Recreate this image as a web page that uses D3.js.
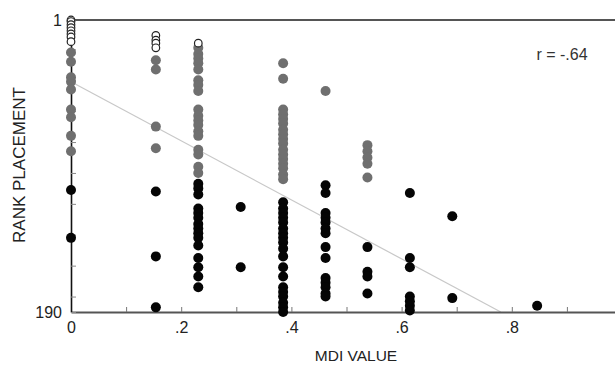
<!DOCTYPE html>
<html>
<head>
<meta charset="utf-8">
<script src="https://cdn.jsdelivr.net/npm/d3@7"></script>
<style>
  body { margin: 0; background: #fff; }
  svg { display: block; font-family: "Liberation Sans", Arial, sans-serif; }
</style>
</head>
<body>
<div id="root"></div>
<script>
// MDI value, rank placement
const openPoints = [
  [0, 1], [0, 2], [0, 4], [0, 6], [0, 8], [0, 10], [0, 12], [0, 15],
  [0.154, 11], [0.154, 14], [0.154, 16], [0.154, 19],
  [0.231, 16]
];
const grayPoints = [
  [0, 22], [0, 28], [0, 38], [0, 41], [0, 46], [0, 59], [0, 64], [0, 76], [0, 86],
  [0.154, 27], [0.154, 33], [0.154, 70], [0.154, 84],
  [0.231, 19], [0.231, 23], [0.231, 26], [0.231, 29], [0.231, 33], [0.231, 40],
  [0.231, 43], [0.231, 47], [0.231, 59], [0.231, 63], [0.231, 66], [0.231, 69],
  [0.231, 73], [0.231, 76], [0.231, 85], [0.231, 88], [0.231, 96], [0.231, 100],
  [0.385, 29], [0.385, 39], [0.385, 59], [0.385, 62], [0.385, 65], [0.385, 68],
  [0.385, 72], [0.385, 75], [0.385, 78], [0.385, 81], [0.385, 85], [0.385, 88],
  [0.385, 91], [0.385, 94], [0.385, 97], [0.385, 101], [0.385, 104],
  [0.462, 47],
  [0.538, 82], [0.538, 86], [0.538, 90], [0.538, 94], [0.538, 103]
];
const blackPoints = [
  [0, 111], [0, 142],
  [0.154, 112], [0.154, 154], [0.154, 187],
  [0.231, 107], [0.231, 110], [0.231, 114], [0.231, 123], [0.231, 126], [0.231, 129],
  [0.231, 133], [0.231, 136], [0.231, 139], [0.231, 142], [0.231, 147], [0.231, 155],
  [0.231, 161], [0.231, 167], [0.231, 174],
  [0.308, 122], [0.308, 161],
  [0.385, 119], [0.385, 123], [0.385, 126], [0.385, 129], [0.385, 132], [0.385, 136],
  [0.385, 139], [0.385, 142], [0.385, 145], [0.385, 149], [0.385, 154], [0.385, 161],
  [0.385, 167], [0.385, 174], [0.385, 177], [0.385, 180], [0.385, 184], [0.385, 187],
  [0.385, 190],
  [0.462, 108], [0.462, 113], [0.462, 126], [0.462, 129], [0.462, 132], [0.462, 136],
  [0.462, 139], [0.462, 148], [0.462, 155], [0.462, 168], [0.462, 171], [0.462, 174],
  [0.462, 178], [0.462, 180],
  [0.538, 148], [0.538, 164], [0.538, 167], [0.538, 178],
  [0.615, 113], [0.615, 155], [0.615, 161], [0.615, 180], [0.615, 183], [0.615, 186],
  [0.615, 189],
  [0.692, 128], [0.692, 181],
  [0.846, 186]
];
const fitLine = [[0, 41], [0.78, 190]];
const xTicks = [0, 0.1, 0.2, 0.3, 0.4, 0.5, 0.6, 0.7, 0.8, 0.9, 1];
const xTickLabels = ["0", "", ".2", "", ".4", "", ".6", "", ".8", "", "1"];
const yTicks = [1, 20, 40, 60, 80, 100, 120, 140, 160, 180, 190];
const yTickLabels = ["1", "", "", "", "", "", "", "", "", "", "190"];

const width = 615;
const height = 367;

const svg = d3.select("#root")
  .append("svg")
  .attr("width", width)
  .attr("height", height);

const x = d3.scaleLinear().domain([0, 1]).range([71, 622]);
const y = d3.scaleLinear().domain([1, 190]).range([20, 312]);

// top frame line
svg.append("line")
  .attr("x1", x(0)).attr("x2", width)
  .attr("y1", y(1)).attr("y2", y(1))
  .attr("stroke", "#555")
  .attr("stroke-width", 2);

// regression line
svg.append("line")
  .attr("x1", x(fitLine[0][0])).attr("y1", y(fitLine[0][1]))
  .attr("x2", x(fitLine[1][0])).attr("y2", y(fitLine[1][1]))
  .attr("stroke", "#c8c8c8")
  .attr("stroke-width", 1.2);

// axes
const xAxis = d3.axisBottom(x)
  .tickValues(xTicks)
  .tickSizeInner(-5)
  .tickSizeOuter(0)
  .tickPadding(10)
  .tickFormat((d, i) => xTickLabels[i]);

const gx = svg.append("g")
  .attr("transform", `translate(0,${y(190)})`)
  .call(xAxis);
gx.select(".domain").attr("stroke", "#555").attr("stroke-width", 2);
gx.selectAll(".tick line").attr("stroke", "#777");
gx.selectAll(".tick text")
  .attr("font-size", 16)
  .attr("font-family", "Liberation Sans, Arial, sans-serif")
  .attr("fill", "#222");

const yAxis = d3.axisLeft(y)
  .tickValues(yTicks)
  .tickSizeInner(-5)
  .tickSizeOuter(0)
  .tickPadding(9)
  .tickFormat((d, i) => yTickLabels[i]);

const gy = svg.append("g")
  .attr("transform", `translate(${x(0)},0)`)
  .call(yAxis);
gy.select(".domain").attr("stroke", "#111").attr("stroke-width", 1.6);
gy.selectAll(".tick line").attr("stroke", "#888");
gy.selectAll(".tick text")
  .attr("font-size", 16)
  .attr("font-family", "Liberation Sans, Arial, sans-serif")
  .attr("fill", "#222");

// points
svg.append("g")
  .selectAll("circle")
  .data(blackPoints)
  .enter()
  .append("circle")
  .attr("cx", (d) => x(d[0]))
  .attr("cy", (d) => y(d[1]))
  .attr("r", 5)
  .attr("fill", "#050505");

svg.append("g")
  .selectAll("circle")
  .data(grayPoints)
  .enter()
  .append("circle")
  .attr("cx", (d) => x(d[0]))
  .attr("cy", (d) => y(d[1]))
  .attr("r", 5)
  .attr("fill", "#6f6f6f");

svg.append("g")
  .selectAll("circle")
  .data(openPoints)
  .enter()
  .append("circle")
  .attr("cx", (d) => x(d[0]))
  .attr("cy", (d) => y(d[1]))
  .attr("r", 3.8)
  .attr("fill", "#fff")
  .attr("stroke", "#222")
  .attr("stroke-width", 1.2);

// labels
svg.append("text")
  .attr("x", 562)
  .attr("y", 60)
  .attr("text-anchor", "middle")
  .attr("font-size", 16)
  .attr("fill", "#333")
  .text("r = -.64");

svg.append("text")
  .attr("x", 356)
  .attr("y", 361)
  .attr("text-anchor", "middle")
  .attr("font-size", 15.5)
  .attr("fill", "#222")
  .text("MDI VALUE");

svg.append("text")
  .attr("transform", "translate(25,165) rotate(-90)")
  .attr("text-anchor", "middle")
  .attr("font-size", 17)
  .attr("fill", "#222")
  .text("RANK PLACEMENT");
</script>
</body>
</html>
